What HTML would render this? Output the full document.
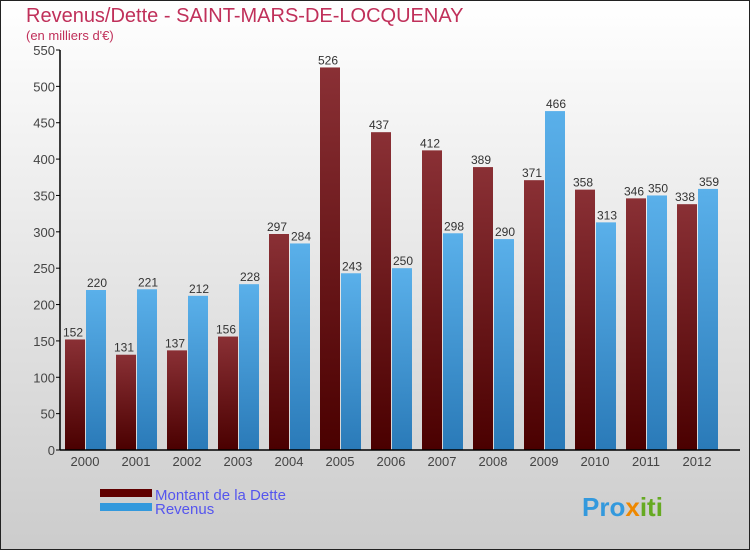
<!DOCTYPE html>
<html><head><meta charset="utf-8"><style>
body{margin:0;}
#c{width:750px;height:550px;position:relative;font-family:"Liberation Sans",sans-serif;}
</style></head><body>
<div id="c">
<svg id="s" width="750" height="550" xmlns="http://www.w3.org/2000/svg">
<defs>
<linearGradient id="bg" x1="0" y1="0" x2="0" y2="1"><stop offset="0" stop-color="#ffffff"/><stop offset="1" stop-color="#cccccc"/></linearGradient>
<linearGradient id="gd" x1="0" y1="0" x2="0" y2="1"><stop offset="0" stop-color="#8a3035"/><stop offset="1" stop-color="#4a0000"/></linearGradient>
<linearGradient id="gr" x1="0" y1="0" x2="0" y2="1"><stop offset="0" stop-color="#5ab0ea"/><stop offset="1" stop-color="#2a7ab8"/></linearGradient>
</defs>
<rect x="0.5" y="0.5" width="749" height="549" fill="url(#bg)" stroke="#222"/>
<text x="26" y="22" font-size="20" fill="#c0305a">Revenus/Dette - SAINT-MARS-DE-LOCQUENAY</text>
<text x="26" y="40" font-size="13" fill="#c0305a">(en milliers d'€)</text>
<g id="plot"></g>
<rect x="100" y="489" width="52" height="8" fill="#600000"/>
<rect x="100" y="503" width="52" height="8" fill="#3399dd"/>
<text x="155" y="500" font-size="15" fill="#5555ee">Montant de la Dette</text>
<text x="155" y="514" font-size="15" fill="#5555ee">Revenus</text>
<text x="582" y="516" font-size="26" font-weight="bold" fill="#3399dd">Pro<tspan fill="#ee8800">x</tspan><tspan fill="#66aa22">iti</tspan></text>
</svg></div>
<script>
const years=["2000","2001","2002","2003","2004","2005","2006","2007","2008","2009","2010","2011","2012"];
const dette=[152,131,137,156,297,526,437,412,389,371,358,346,338];
const revenus=[220,221,212,228,284,243,250,298,290,466,313,350,359];
const ticks=[0,50,100,150,200,250,300,350,400,450,500,550];
const NS="http://www.w3.org/2000/svg";
const g=document.getElementById('plot');
const y0=450,ky=400/550,x0=60,gw=51;
const Y=v=>y0-v*ky;
function el(t,a,txt){const e=document.createElementNS(NS,t);for(const k in a)e.setAttribute(k,a[k]);if(txt!==undefined)e.textContent=txt;g.appendChild(e);return e;}
ticks.forEach(t=>{
 const l=el('line',{x1:x0-4,x2:x0,y1:Y(t),y2:Y(t),stroke:'#000'});
 
 
 const tx=el('text',{x:x0-5,y:Y(t)+5,'font-size':13,fill:'#444','text-anchor':'end'},String(t));
 
 
});
years.forEach((yr,i)=>{
 const cx=x0+25+i*gw;
 const d=el('rect',{x:cx-20,y:Y(dette[i]),width:20,height:dette[i]*ky,fill:'url(#gd)'});
 
 
 const r=el('rect',{x:cx+1,y:Y(revenus[i]),width:20,height:revenus[i]*ky,fill:'url(#gr)'});
 
 
 const a=el('text',{x:cx-12,y:Y(dette[i])-3,'font-size':12,fill:'#333','text-anchor':'middle'},String(dette[i]));
 
 
 const b=el('text',{x:cx+12,y:Y(revenus[i])-3,'font-size':12,fill:'#333','text-anchor':'middle'},String(revenus[i]));
 
 
 const tl=el('text',{x:cx,y:466,'font-size':13,fill:'#444','text-anchor':'middle'},yr);
 
 
});
const ya=el('line',{x1:x0,x2:x0,y1:Y(550),y2:y0,stroke:'#000','stroke-width':1.5});


const xa=el('line',{x1:x0,x2:740,y1:y0,y2:y0,stroke:'#000','stroke-width':1.5});


</script>
</body></html>
